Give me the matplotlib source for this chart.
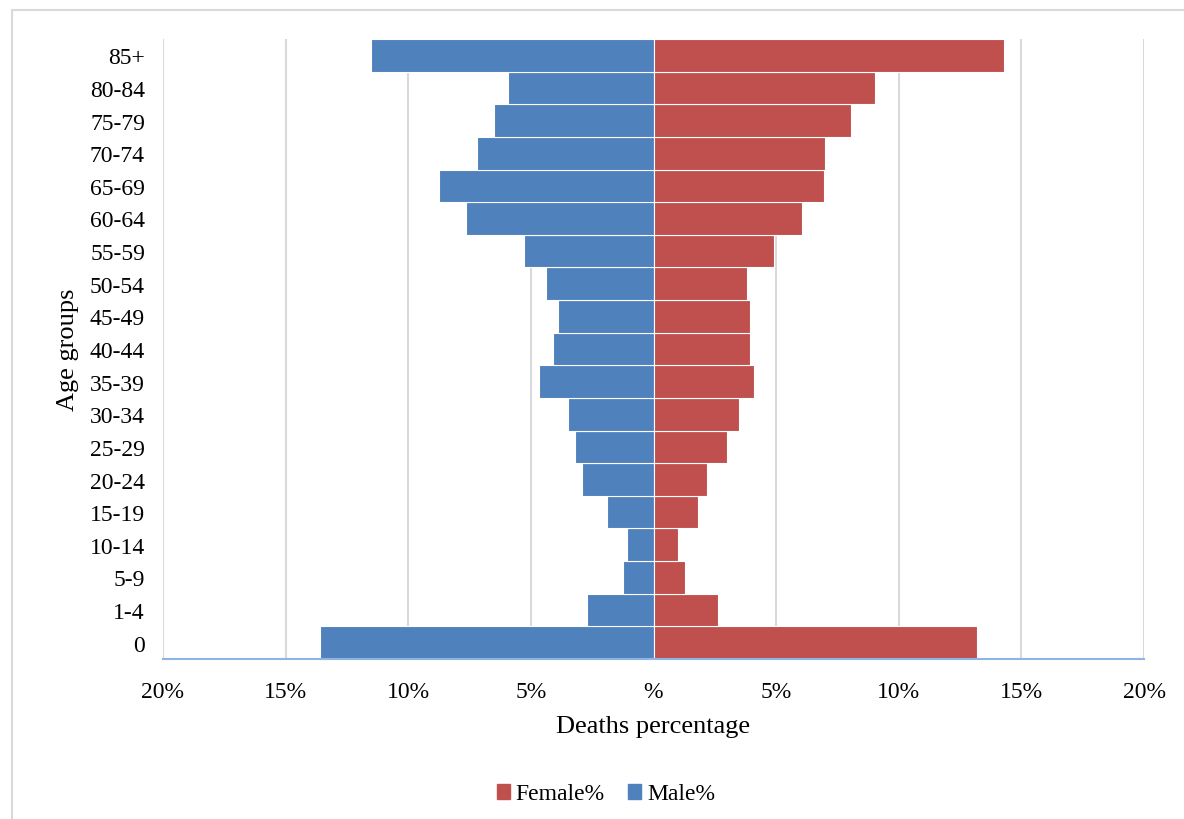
import matplotlib.pyplot as plt
from matplotlib.patches import Rectangle, Patch

plt.rcParams['font.family'] = ['Liberation Serif', 'DejaVu Serif']

age_groups = ['0', '1-4', '5-9', '10-14', '15-19', '20-24', '25-29', '30-34',
              '35-39', '40-44', '45-49', '50-54', '55-59', '60-64', '65-69',
              '70-74', '75-79', '80-84', '85+']
male_pct = [13.6, 2.7, 1.25, 1.1, 1.9, 2.9, 3.2, 3.5, 4.65, 4.1, 3.9, 4.4,
            5.3, 7.65, 8.75, 7.2, 6.5, 5.95, 11.5]
female_pct = [13.2, 2.65, 1.3, 1.0, 1.8, 2.2, 3.0, 3.5, 4.1, 3.95, 3.95, 3.8,
              4.9, 6.05, 6.95, 7.0, 8.05, 9.05, 14.3]
x_ticks = [-20, -15, -10, -5, 0, 5, 10, 15, 20]
x_tick_labels = ['20%', '15%', '10%', '5%', '%', '5%', '10%', '15%', '20%']

male_color = '#4F81BD'
female_color = '#C0504D'

fig = plt.figure(figsize=(11.84, 8.2), dpi=100)
# light frame around the chart area
fig.patches.append(Rectangle((12 / 1184, -0.1), 1.2, 1.1 - 11 / 820,
                             transform=fig.transFigure, fill=False,
                             edgecolor='#D9D9D9', linewidth=1.5))
ax = fig.add_axes([163 / 1184, 1 - 660 / 820, 981 / 1184, 620 / 820])

y = list(range(len(age_groups)))
ax.barh(y, [-v for v in male_pct], height=1.0, color=male_color,
        edgecolor='white', linewidth=0.8, zorder=2, label='Male%')
ax.barh(y, female_pct, height=1.0, color=female_color,
        edgecolor='white', linewidth=0.8, zorder=2, label='Female%')

ax.set_xlim(-20, 20)
ax.set_ylim(-0.5, len(age_groups) - 0.5)
ax.set_xticks(x_ticks)
ax.set_xticklabels(x_tick_labels)
ax.set_yticks(y)
ax.set_yticklabels(age_groups)
ax.tick_params(axis='both', length=0, labelsize=17, colors='black')
ax.tick_params(axis='x', pad=16)
ax.tick_params(axis='y', pad=13)

ax.grid(axis='x', color='#D9D9D9', linewidth=1.5, zorder=0)
for side in ['top', 'right', 'left']:
    ax.spines[side].set_visible(False)
ax.spines['bottom'].set_color('#8EB4E3')
ax.spines['bottom'].set_linewidth(1.5)
ax.spines['bottom'].set_zorder(3)

ax.set_xlabel('Deaths percentage', fontsize=19, labelpad=9)
ax.set_ylabel('Age groups', fontsize=19, labelpad=8)

handles = [Patch(color=female_color, label='Female%'),
           Patch(color=male_color, label='Male%')]
fig.legend(handles=handles, loc='center', bbox_to_anchor=(606 / 1184, 1 - 795 / 820),
           ncol=2, frameon=False, fontsize=17, handlelength=0.55, handleheight=0.6,
           handletextpad=0.25, columnspacing=1.0)

fig.savefig('out.png', dpi=100)
